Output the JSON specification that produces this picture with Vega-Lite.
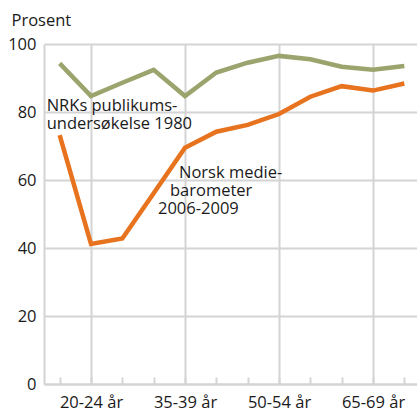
{
  "$schema": "https://vega.github.io/schema/vega-lite/v6.json",
  "autosize": {"type": "none"},
  "padding": {"left": 44, "top": 44, "right": 0, "bottom": 27},
  "width": 376,
  "height": 340,
  "config": {
    "font": "Open Sans",
    "view": {"stroke": null},
    "axis": {"labelFont": "Open Sans", "labelFontSize": 16.5, "labelColor": "#1a1a1a", "gridColor": "#d4d4d4", "gridWidth": 2, "gridOpacity": 1, "domainColor": "#d4d4d4", "domainWidth": 2, "tickColor": "#d4d4d4", "tickWidth": 2}
  },
  "datasets": {
    "series": [
      {"age": "16-19 år", "serie": "NRK 1980", "prosent": 94.3},
      {"age": "20-24 år", "serie": "NRK 1980", "prosent": 84.7},
      {"age": "25-29 år", "serie": "NRK 1980", "prosent": 88.6},
      {"age": "30-34 år", "serie": "NRK 1980", "prosent": 92.4},
      {"age": "35-39 år", "serie": "NRK 1980", "prosent": 84.7},
      {"age": "40-44 år", "serie": "NRK 1980", "prosent": 91.6},
      {"age": "45-49 år", "serie": "NRK 1980", "prosent": 94.5},
      {"age": "50-54 år", "serie": "NRK 1980", "prosent": 96.5},
      {"age": "55-59 år", "serie": "NRK 1980", "prosent": 95.5},
      {"age": "60-64 år", "serie": "NRK 1980", "prosent": 93.3},
      {"age": "65-69 år", "serie": "NRK 1980", "prosent": 92.4},
      {"age": "70-79 år", "serie": "NRK 1980", "prosent": 93.5},
      {"age": "16-19 år", "serie": "Mediebarometer", "prosent": 73.2},
      {"age": "20-24 år", "serie": "Mediebarometer", "prosent": 41.2},
      {"age": "25-29 år", "serie": "Mediebarometer", "prosent": 42.8},
      {"age": "30-34 år", "serie": "Mediebarometer", "prosent": 56.1},
      {"age": "35-39 år", "serie": "Mediebarometer", "prosent": 69.5},
      {"age": "40-44 år", "serie": "Mediebarometer", "prosent": 74.2},
      {"age": "45-49 år", "serie": "Mediebarometer", "prosent": 76.2},
      {"age": "50-54 år", "serie": "Mediebarometer", "prosent": 79.4},
      {"age": "55-59 år", "serie": "Mediebarometer", "prosent": 84.5},
      {"age": "60-64 år", "serie": "Mediebarometer", "prosent": 87.6},
      {"age": "65-69 år", "serie": "Mediebarometer", "prosent": 86.3},
      {"age": "70-79 år", "serie": "Mediebarometer", "prosent": 88.4}
    ]
  },
  "layer": [
    {
      "data": {"name": "series"},
      "mark": {"type": "line", "strokeWidth": 4.5, "strokeJoin": "miter"},
      "encoding": {
        "x": {
          "field": "age", "type": "ordinal", "sort": null,
          "scale": {"type": "point", "padding": 0.5},
          "axis": {
            "title": null, "labelAngle": 0, "tickSize": -7, "labelPadding": 17, "grid": true,
            "labelExpr": "indexof(['20-24 år','35-39 år','50-54 år','65-69 år'], datum.value) >= 0 ? datum.value : ''",
            "gridColor": {"condition": {"test": "indexof(['20-24 år','35-39 år','50-54 år','65-69 år'], datum.value) >= 0", "value": "#d4d4d4"}, "value": "transparent"}
          }
        },
        "y": {
          "field": "prosent", "type": "quantitative",
          "scale": {"domain": [0, 100], "nice": false},
          "axis": {
            "values": [0, 20, 40, 60, 80, 100], "ticks": false, "labelPadding": 8, "grid": true,
            "title": "Prosent", "titleAngle": 0, "titleAlign": "left", "titleBaseline": "alphabetic",
            "titleX": -33, "titleY": -19, "titleFont": "Open Sans", "titleFontSize": 16.5, "titleFontWeight": "normal", "titleColor": "#1a1a1a"
          }
        },
        "color": {
          "field": "serie", "type": "nominal", "legend": null,
          "scale": {"domain": ["NRK 1980", "Mediebarometer"], "range": ["#9ca46e", "#e8731f"]}
        }
      }
    },
    {
      "data": {"values": [
        {"age": "16-19 år", "y": 80.4, "text": "NRKs publikums-"},
        {"age": "16-19 år", "y": 74.9, "text": "undersøkelse 1980"}
      ]},
      "mark": {"type": "text", "align": "left", "baseline": "alphabetic", "dx": -13, "fontSize": 16.5, "color": "#1a1a1a"},
      "encoding": {
        "x": {"field": "age", "type": "ordinal"},
        "y": {"field": "y", "type": "quantitative"},
        "text": {"field": "text"}
      }
    },
    {
      "data": {"values": [{"age": "35-39 år", "y": 60.5, "text": "Norsk medie-"}]},
      "mark": {"type": "text", "align": "left", "baseline": "alphabetic", "dx": -6, "fontSize": 16.5, "color": "#1a1a1a"},
      "encoding": {
        "x": {"field": "age", "type": "ordinal"},
        "y": {"field": "y", "type": "quantitative"},
        "text": {"field": "text"}
      }
    },
    {
      "data": {"values": [{"age": "35-39 år", "y": 55.3, "text": "barometer"}]},
      "mark": {"type": "text", "align": "left", "baseline": "alphabetic", "dx": -15, "fontSize": 16.5, "color": "#1a1a1a"},
      "encoding": {
        "x": {"field": "age", "type": "ordinal"},
        "y": {"field": "y", "type": "quantitative"},
        "text": {"field": "text"}
      }
    },
    {
      "data": {"values": [{"age": "35-39 år", "y": 49.9, "text": "2006-2009"}]},
      "mark": {"type": "text", "align": "left", "baseline": "alphabetic", "dx": -27, "fontSize": 16.5, "color": "#1a1a1a"},
      "encoding": {
        "x": {"field": "age", "type": "ordinal"},
        "y": {"field": "y", "type": "quantitative"},
        "text": {"field": "text"}
      }
    }
  ]
}
